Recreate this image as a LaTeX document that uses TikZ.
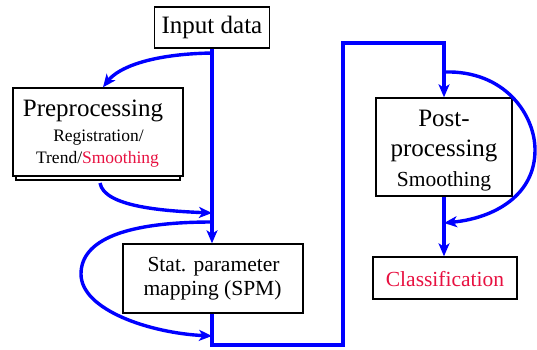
\documentclass[tikz,border=0pt]{standalone}
\usepackage{fontspec}
\setmainfont{Liberation Serif}
\newfontfamily\tnr{Liberation Serif}
\usetikzlibrary{arrows.meta}
\definecolor{flow}{RGB}{0,0,255}
\definecolor{hl}{RGB}{232,16,64}
\begin{document}
\begin{tikzpicture}[x=1pt,y=-1pt,
  box/.style={draw=black, line width=1.4pt, fill=white, inner sep=0pt},
  flowline/.style={draw=flow, line width=3.4pt},
  arr/.style={-{Stealth[length=13pt,width=11pt,inset=3.5pt]}},
  big/.style={font=\tnr\fontsize{25}{28}\selectfont},
  mid/.style={font=\tnr\fontsize{21.5}{26}\selectfont},
  small/.style={font=\tnr\fontsize{17.5}{21}\selectfont},
  lbl/.style={anchor=base, inner sep=0pt}]
\useasboundingbox (0,0) rectangle (537,349);
% boxes
\node[box, minimum width=115pt, minimum height=41pt] (input) at (212,27.5) {};
\node[lbl, big] (inputt) at (212,33) {Input data};
\draw[line width=1.4pt] (16,176) -- (16,180) -- (180,180) -- (180,176);
\node[box, minimum width=170pt, minimum height=88pt] (pre) at (98,132) {};
\node[lbl, big] (pret) at (93,116.5) {Preprocessing};
\node[lbl, small] (prea) at (98.5,141.5) {Registration/};
\node[lbl, small] (preb) at (97.5,163) {Trend/\textcolor{hl}{Smoothing}};
\node[box, minimum width=180pt, minimum height=69pt] (spm) at (213,278.5) {};
\node[lbl, mid] (spma) at (213.5,271) {Stat. parameter};
\node[lbl, mid] (spmb) at (212.5,295) {mapping (SPM)};
\node[box, minimum width=136pt, minimum height=98pt] (post) at (444,147) {};
\node[lbl, big] (posta) at (444,126.5) {Post-};
\node[lbl, big] (postb) at (444,156) {processing};
\node[lbl, mid] (postc) at (444,186) {Smoothing};
\node[box, minimum width=144pt, minimum height=42pt] (cls) at (445,278) {};
\node[lbl, mid, text=hl] (clst) at (445,286) {Classification};
% junction coordinates
\coordinate (j1) at (212,53);
\coordinate (j2) at (212,213);
\coordinate (j3) at (212,222);
\coordinate (j4) at (212,336);
\coordinate (k1) at (444,72);
\coordinate (k2) at (444,223);
\coordinate (pb) at (100,183);
% main flow
\draw[flowline, arr] (input.south -| j1) -- (spm.north -| j1);
\draw[flowline, arr, line join=miter] (spm.south -| j1) -- (212,345) -- (343,345) -- (343,43) -- (444,43) -- (post.north -| k1);
\draw[flowline, arr] (post.south -| k1) -- (cls.north -| k1);
% curves
\draw[flowline, arr] (j1) .. controls (150,54) and (118,68) .. (pre.north -| 103,0);
\draw[flowline, arr] (pb) .. controls (104,207) and (165,211) .. (j2);
\draw[flowline, arr] (j3) .. controls (125,222) and (81,240) .. (81,274) .. controls (81,310) and (150,333) .. (j4);
\draw[flowline, arr] (k1) .. controls (505,70) and (535,115) .. (535,150) .. controls (535,195) and (495,218) .. (k2);
\end{tikzpicture}
\end{document}
